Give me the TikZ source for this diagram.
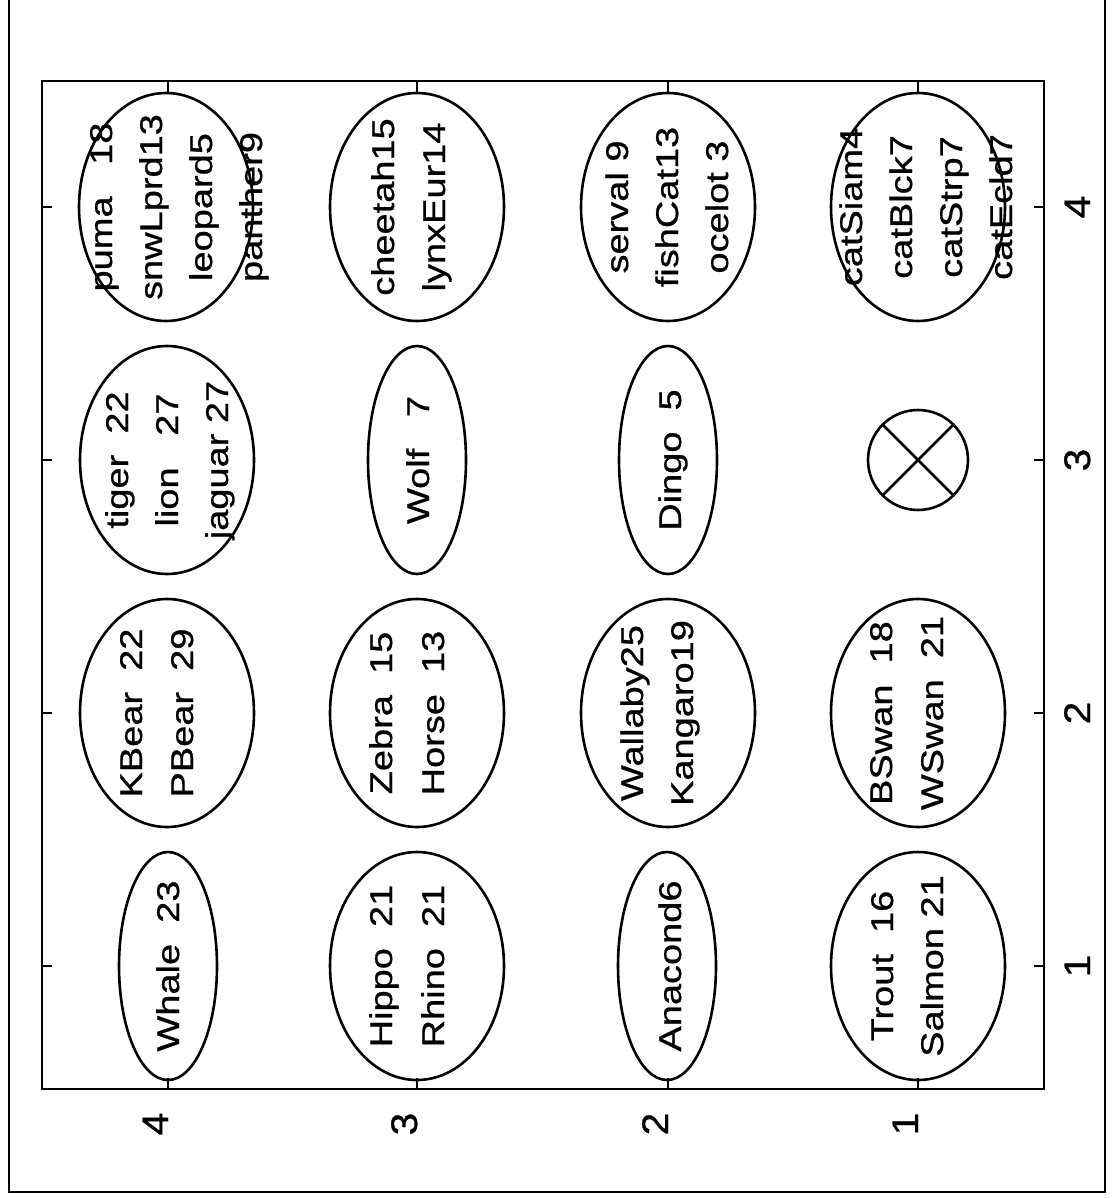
\documentclass[tikz,border=0pt]{standalone}
\usepackage{fontspec}
\setmainfont{Liberation Sans}
\newfontfamily\labfont[FakeStretch=1.21,FakeBold=0.8]{Liberation Sans}
\newfontfamily\tickfont[FakeStretch=1.1,FakeBold=0.8]{Liberation Sans}
\usetikzlibrary{shapes.geometric}
\begin{document}
\begin{tikzpicture}[x=1pt,y=-1pt,
  ell/.style={draw, ellipse, line width=2.6pt, minimum width=174pt, minimum height=228pt, inner sep=0pt},
  nell/.style={ell, minimum width=98pt},
  lbl/.style={rotate=90, anchor=base, inner sep=0pt, font=\labfont\fontsize{31.4}{36}\selectfont},
  tickmark/.style={line width=2pt},
  ticklbl/.style={rotate=90, anchor=base, inner sep=0pt, font=\tickfont\fontsize{37}{40}\selectfont}]
\useasboundingbox (0,0) rectangle (1112,1198);
% outer frame
\draw[line width=1.5pt] (9,-2) -- (9,1192) -- (1105,1192) -- (1105,-2);
% axes box
\draw[line width=2.8pt] (42,81) rectangle (1044,1089);
% ticks
\foreach \p in {168,417,668,918}{
  \draw[tickmark] (\p,81) -- (\p,92);
  \draw[tickmark] (\p,1089) -- (\p,1078);
}
\foreach \p in {207,460,713,966}{
  \draw[tickmark] (42,\p) -- (52,\p);
  \draw[tickmark] (1044,\p) -- (1034,\p);
}
% tick labels (bottom)
\node[ticklbl] (bx4) at (168,1124) {4};
\node[ticklbl] (bx3) at (417,1124) {3};
\node[ticklbl] (bx2) at (668,1124) {2};
\node[ticklbl] (bx1) at (918,1124) {1};
% tick labels (right)
\node[ticklbl] (ry4) at (1090,207) {4};
\node[ticklbl] (ry3) at (1090,460) {3};
\node[ticklbl] (ry2) at (1090,713) {2};
\node[ticklbl] (ry1) at (1090,966) {1};

% column y=207
\node[ell] (e14) at (166,207) {};
\node[lbl] (t14a) at (112,207) {puma~~~18};
\node[lbl] (t14b) at (162,207) {snwLprd13};
\node[lbl] (t14c) at (212,207) {leopard5};
\node[lbl] (t14d) at (262,207) {panther9};

\node[ell] (e24) at (417,207) {};
\node[lbl] (t24a) at (394,207) {cheetah15};
\node[lbl] (t24b) at (445,207) {lynxEur14};

\node[ell] (e34) at (668,207) {};
\node[lbl] (t34a) at (628,207) {serval~9};
\node[lbl] (t34b) at (678,207) {fishCat13};
\node[lbl] (t34c) at (728,207) {ocelot~3};

\node[ell] (e44) at (918,207) {};
\node[lbl] (t44a) at (862,207) {catSiam4};
\node[lbl] (t44b) at (912,207) {catBlck7};
\node[lbl] (t44c) at (962,207) {catStrp7};
\node[lbl] (t44d) at (1012,207) {catEcld7};

% column y=460
\node[ell] (e13) at (167,460) {};
\node[lbl] (t13a) at (128,460) {tiger~~22};
\node[lbl] (t13b) at (178,460) {lion~~~27};
\node[lbl] (t13c) at (228,460) {jaguar~27};

\node[nell] (e23) at (417,460) {};
\node[lbl] (t23a) at (429,460) {Wolf~~~7};

\node[nell] (e33) at (668,460) {};
\node[lbl] (t33a) at (681,460) {Dingo~~5};

\node[draw, circle, line width=2.6pt, minimum size=100pt, inner sep=0pt] (x43) at (918,460) {};
\draw[line width=2.6pt] (x43.north west) -- (x43.south east);
\draw[line width=2.6pt] (x43.south west) -- (x43.north east);

% column y=713
\node[ell] (e12) at (167,713) {};
\node[lbl] (t12a) at (142,713) {KBear~~22};
\node[lbl] (t12b) at (193,713) {PBear~~29};

\node[ell] (e22) at (417,713) {};
\node[lbl] (t22a) at (392,713) {Zebra~~15};
\node[lbl] (t22b) at (444,713) {Horse~~13};

\node[ell] (e32) at (668,713) {};
\node[lbl] (t32a) at (643,713) {Wallaby25};
\node[lbl] (t32b) at (693,713) {Kangaro19};

\node[ell] (e42) at (918,713) {};
\node[lbl] (t42a) at (892,713) {BSwan~~18};
\node[lbl] (t42b) at (943,713) {WSwan~~21};

% column y=966
\node[nell] (e11) at (168,966) {};
\node[lbl] (t11a) at (179,966) {Whale~~23};

\node[ell] (e21) at (417,966) {};
\node[lbl] (t21a) at (392,966) {Hippo~~21};
\node[lbl] (t21b) at (444,966) {Rhino~~21};

\node[nell] (e31) at (667,966) {};
\node[lbl] (t31a) at (681,966) {Anacond6};

\node[ell] (e41) at (918,966) {};
\node[lbl] (t41a) at (893,966) {Trout~~16};
\node[lbl] (t41b) at (943,966) {Salmon~21};
\end{tikzpicture}
\end{document}
